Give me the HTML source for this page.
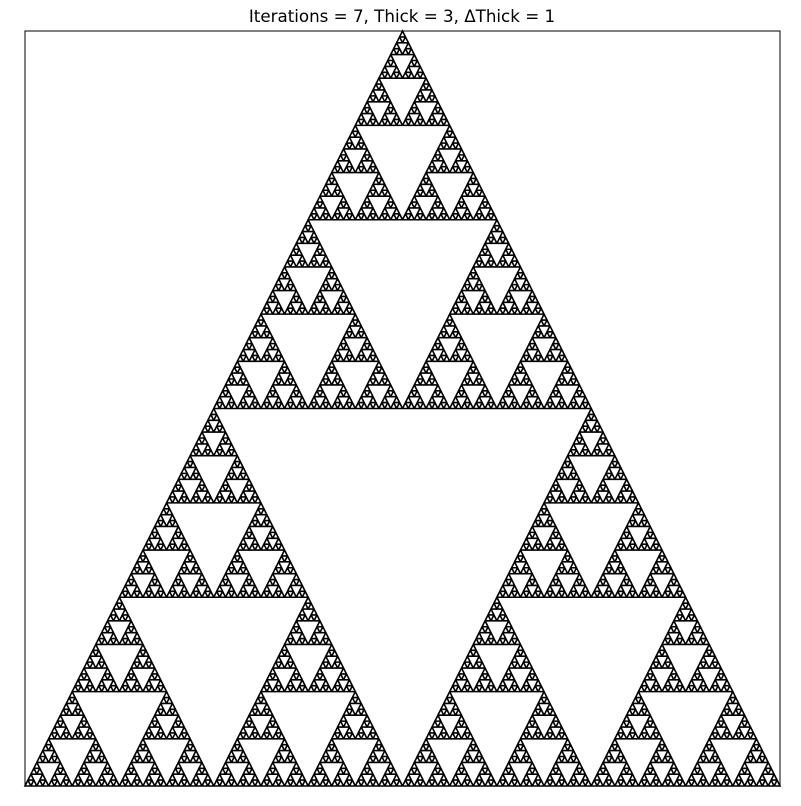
<!DOCTYPE html>
<html><head><meta charset="utf-8"><style>
html,body{margin:0;padding:0;background:#fff;}
#wrap{position:relative;width:801px;height:801px;}
svg text{font-family:"DejaVu Sans","Liberation Sans",sans-serif;}
</style></head><body>
<div id="wrap">
<svg id="svg" width="801" height="801" viewBox="0 0 801 801">
<text x="402" y="22" font-size="16.7" text-anchor="middle">Iterations = 7, Thick = 3, ΔThick = 1</text>
<g id="marks"></g>
<rect x="25" y="31" width="755" height="755" fill="none" stroke="#000" stroke-width="1"/>
</svg>
</div>
<script>
const iterations = [7];
const thickness = [3];
const deltaThick = [1];
const xDomain = [0, 1];
const yDomain = [0, 1];
const X0 = 25, X1 = 780, Y0 = 786, Y1 = 31;
function sx(v){return X0 + (v - xDomain[0]) / (xDomain[1] - xDomain[0]) * (X1 - X0);}
function sy(v){return Y0 - (v - yDomain[0]) / (yDomain[1] - yDomain[0]) * (Y0 - Y1);}
const leaves = [];
function tri(ax, ay, bx, by, cx, cy, level){
  if (level >= iterations[0]) {
    leaves.push('M'+sx(ax).toFixed(2)+' '+sy(ay).toFixed(2)+'L'+sx(bx).toFixed(2)+' '+sy(by).toFixed(2)+'L'+sx(cx).toFixed(2)+' '+sy(cy).toFixed(2)+'Z');
    return;
  }
  const abx=(ax+bx)/2, aby=(ay+by)/2, bcx=(bx+cx)/2, bcy=(by+cy)/2, cax=(cx+ax)/2, cay=(cy+ay)/2;
  tri(ax,ay,abx,aby,cax,cay,level+1);
  tri(abx,aby,bx,by,bcx,bcy,level+1);
  tri(cax,cay,bcx,bcy,cx,cy,level+1);
}
tri(0,0,1,0,0.5,1,0);
const g = document.getElementById('marks');
const el = document.createElementNS('http://www.w3.org/2000/svg','path');


el.setAttribute('d', leaves.join(''));
el.setAttribute('fill', 'none');
el.setAttribute('stroke', '#000');
el.setAttribute('stroke-width', ((thickness[0] - deltaThick[0]) * 0.8).toFixed(2));
g.appendChild(el);
</script>
</body></html>
